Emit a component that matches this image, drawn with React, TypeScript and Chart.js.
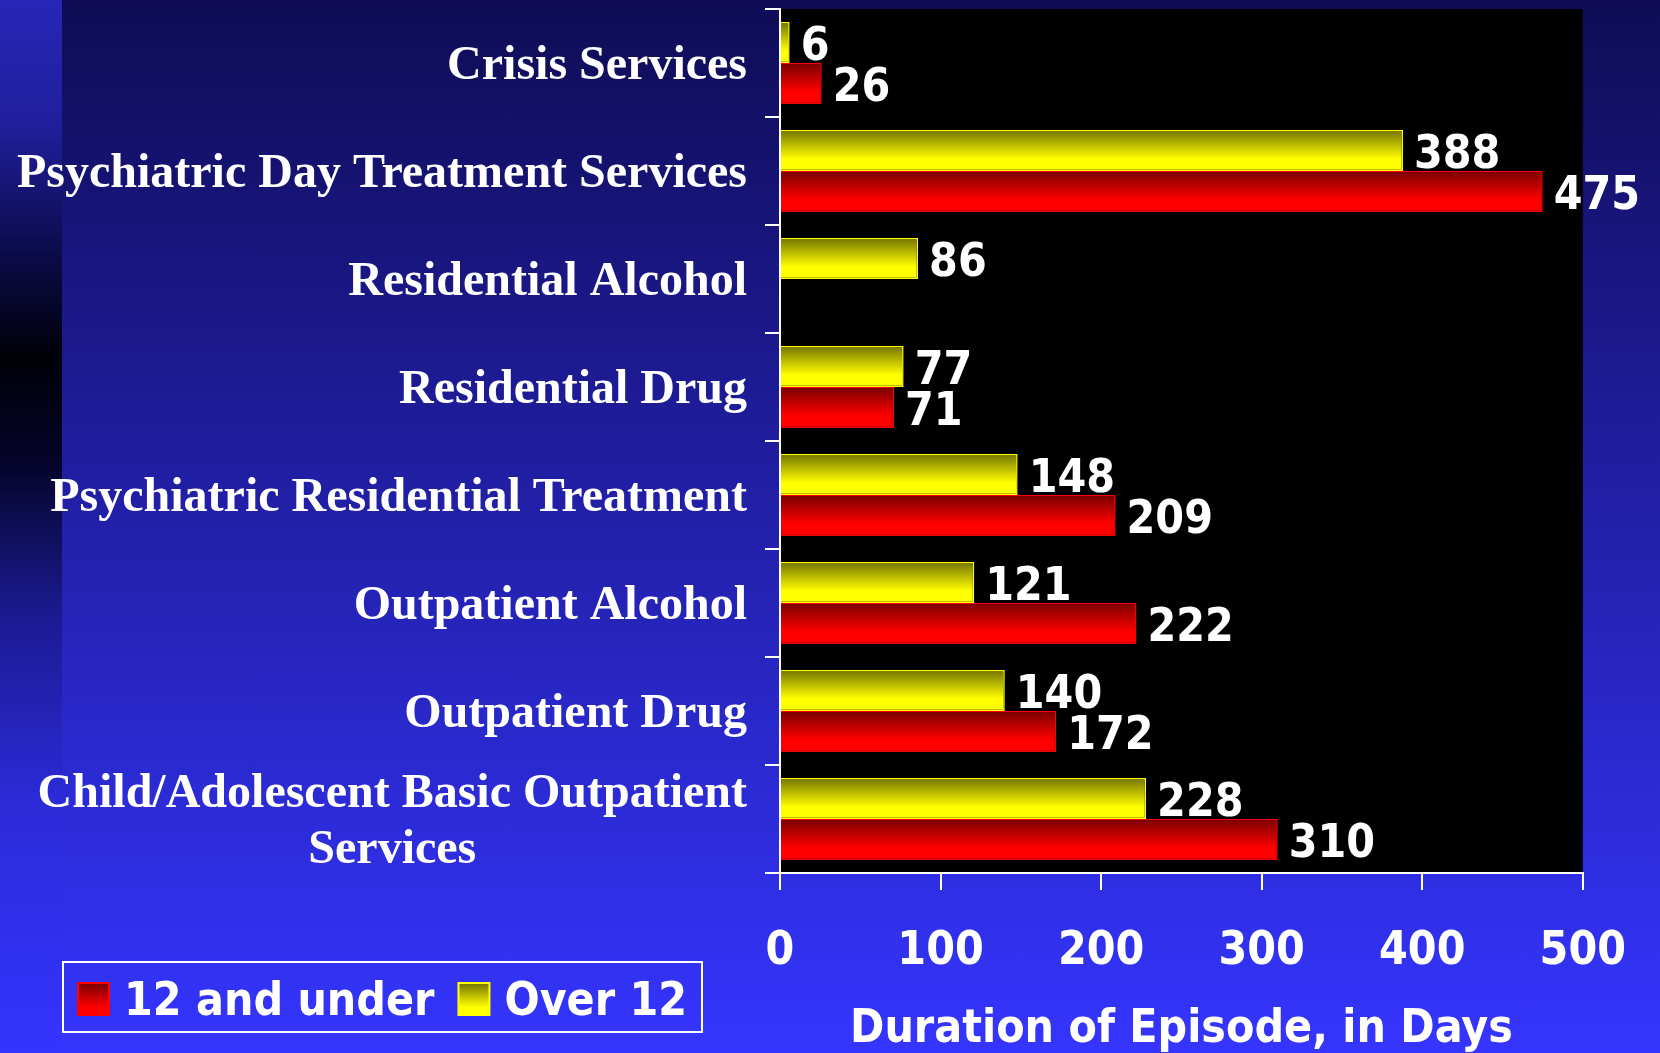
import { useEffect, useRef } from 'react';
import { Chart, registerables } from 'chart.js';

Chart.register(...registerables);

const categories: (string | string[])[] = [
  'Crisis Services',
  'Psychiatric Day Treatment Services',
  'Residential Alcohol',
  'Residential Drug',
  'Psychiatric Residential Treatment',
  'Outpatient Alcohol',
  'Outpatient Drug',
  ['Child/Adolescent Basic Outpatient', 'Services'],
];
const over12: (number | null)[] = [6, 388, 86, 77, 148, 121, 140, 228];
const under12: (number | null)[] = [26, 475, null, 71, 209, 222, 172, 310];
const xTickValues = [0, 100, 200, 300, 400, 500];
const legendLabels = ['12 and under', 'Over 12'];
const axisTitle = 'Duration of Episode, in Days';

const SANS = "'DejaVu Sans Condensed', 'DejaVu Sans', sans-serif";
const SERIF = "'Liberation Serif', 'Times New Roman', serif";
const CAT_PCT = 0.76;

const YELLOW = { dark: '#737300', bright: '#ffff00', border: '#ffff00' };
const RED = { dark: '#780000', bright: '#ff0000', border: '#ff0000' };

function barGradient(ctx: any, col: { dark: string; bright: string }) {
  const chart = ctx.chart;
  const y = chart.scales?.y;
  if (!y || ctx.type !== 'data') return col.bright;
  const center = y.getPixelForValue(ctx.dataIndex);
  const band = Math.abs(y.getPixelForValue(1) - y.getPixelForValue(0));
  const h = (band * CAT_PCT) / 2;
  const top = ctx.datasetIndex === 0 ? center - h : center;
  if (!isFinite(top) || !isFinite(h) || h <= 0) return col.bright;
  const g = chart.ctx.createLinearGradient(0, top, 0, top + h);
  g.addColorStop(0, col.dark);
  g.addColorStop(0.7, col.bright);
  g.addColorStop(1, col.bright);
  return g;
}

const plotBg = {
  id: 'plotBg',
  beforeDraw(chart: any) {
    const { ctx, chartArea: a } = chart;
    ctx.save();
    ctx.fillStyle = '#000';
    ctx.fillRect(a.left, a.top, a.right - a.left, a.bottom - a.top);
    ctx.restore();
  },
};

const valueLabels = {
  id: 'valueLabels',
  afterDatasetsDraw(chart: any) {
    const { ctx } = chart;
    ctx.save();
    ctx.fillStyle = '#fff';
    ctx.font = `bold 46px ${SANS}`;
    ctx.textAlign = 'left';
    ctx.textBaseline = 'middle';
    chart.data.datasets.forEach((ds: any, di: number) => {
      const meta = chart.getDatasetMeta(di);
      meta.data.forEach((el: any, i: number) => {
        const v = ds.data[i];
        if (v == null) return;
        ctx.fillText(String(v), el.x + 11, el.y + 6);
      });
    });
    ctx.restore();
  },
};

const categoryLabels = {
  id: 'categoryLabels',
  afterDraw(chart: any) {
    const { ctx } = chart;
    const y = chart.scales.y;
    const right = y.right - 15 - 18;
    ctx.save();
    ctx.fillStyle = '#fff';
    ctx.font = `bold 48px ${SERIF}`;
    ctx.textBaseline = 'middle';
    const lineH = 56;
    categories.forEach((lab, i) => {
      const c = y.getPixelForValue(i);
      const lines = Array.isArray(lab) ? lab : [lab];
      const w = Math.max(...lines.map((l) => ctx.measureText(l).width));
      const cx = right - w / 2;
      ctx.textAlign = 'center';
      lines.forEach((l, k) => {
        const ly = c + (k - (lines.length - 1) / 2) * lineH + 4;
        ctx.fillText(l, cx, ly);
      });
    });
    ctx.restore();
  },
};

const boxLegend = {
  id: 'boxLegend',
  afterDraw(chart: any) {
    const { ctx } = chart;
    const bx = 63, by = 962, bw = 639, bh = 70;
    ctx.save();
    ctx.strokeStyle = '#fff';
    ctx.lineWidth = 2;
    ctx.strokeRect(bx, by, bw, bh);
    ctx.font = `bold 46px ${SANS}`;
    ctx.textBaseline = 'middle';
    ctx.textAlign = 'left';
    const cols = [RED, YELLOW];
    let x = 78;
    const sy = 983, sh = 32, sw = 31;
    legendLabels.forEach((lab, i) => {
      const col = cols[i];
      const g = ctx.createLinearGradient(0, sy, 0, sy + sh);
      g.addColorStop(0, col.dark);
      g.addColorStop(0.75, col.bright);
      g.addColorStop(1, col.bright);
      ctx.fillStyle = g;
      ctx.fillRect(x, sy, sw, sh);
      ctx.strokeStyle = col.border;
      ctx.lineWidth = 2;
      ctx.strokeRect(x, sy, sw, sh);
      ctx.fillStyle = '#fff';
      ctx.fillText(lab, x + sw + 15, 1003);
      x += sw + 15 + ctx.measureText(lab).width + 24;
    });
    ctx.restore();
  },
};

export default function App() {
  const ref = useRef<HTMLCanvasElement>(null);
  useEffect(() => {
    document.body.style.margin = '0';
    const canvas = ref.current!;
    const chart = new Chart(canvas, {
      type: 'bar',
      data: {
        labels: categories as any,
        datasets: [
          {
            label: legendLabels[1],
            data: over12,
            backgroundColor: (c: any) => barGradient(c, YELLOW),
            borderColor: YELLOW.border,
            borderWidth: 1.5,
            categoryPercentage: CAT_PCT,
            barPercentage: 1,
          },
          {
            label: legendLabels[0],
            data: under12,
            backgroundColor: (c: any) => barGradient(c, RED),
            borderColor: RED.border,
            borderWidth: 1.5,
            categoryPercentage: CAT_PCT,
            barPercentage: 1,
          },
        ],
      },
      options: {
        indexAxis: 'y',
        responsive: false,
        animation: false,
        devicePixelRatio: 1,
        layout: { padding: { top: 9, right: 76, bottom: 0, left: 0 } },
        plugins: {
          legend: { display: false },
          tooltip: { enabled: false },
        },
        scales: {
          x: {
            type: 'linear',
            min: xTickValues[0],
            max: xTickValues[xTickValues.length - 1],
            afterBuildTicks: (s: any) => {
              s.ticks = xTickValues.map((v) => ({ value: v }));
            },
            afterFit: (s: any) => {
              s.height = 180;
            },
            ticks: {
              color: '#fff',
              font: { family: SANS, size: 46, weight: 'bold' },
              padding: 34,
            },
            grid: { drawOnChartArea: false, color: '#fff', lineWidth: 2, tickLength: 17 },
            border: { color: '#fff', width: 2 },
            title: {
              display: true,
              text: axisTitle,
              color: '#fff',
              font: { family: SANS, size: 46, weight: 'bold', lineHeight: 1.0 },
              padding: { top: 0, bottom: 0 },
            },
          },
          y: {
            afterFit: (s: any) => {
              s.width = 780;
            },
            ticks: { display: false },
            grid: { drawOnChartArea: false, color: '#fff', lineWidth: 2, tickLength: 15, offset: true },
            border: { color: '#fff', width: 2 },
          },
        },
      },
      plugins: [plotBg, valueLabels, categoryLabels, boxLegend],
    } as any);
    return () => chart.destroy();
  }, []);

  return (
    <div
      style={{
        position: 'absolute',
        left: 0,
        top: 0,
        width: 1660,
        height: 1053,
        overflow: 'hidden',
        background: 'linear-gradient(to bottom, #0f0c55 0%, #3535ff 100%)',
      }}
    >
      <div
        style={{
          position: 'absolute',
          left: 0,
          top: 0,
          width: 62,
          height: 1053,
          background:
            'linear-gradient(to bottom, #2626b8 0%, #1f1f9c 12%, #0c0b4a 24%, #000008 34%, #05042a 44%, #1a1a90 58%, #2b2bd8 76%, #3434ff 100%)',
        }}
      />
      <canvas ref={ref} width={1660} height={1053} style={{ position: 'absolute', left: 0, top: 0 }} />
    </div>
  );
}
